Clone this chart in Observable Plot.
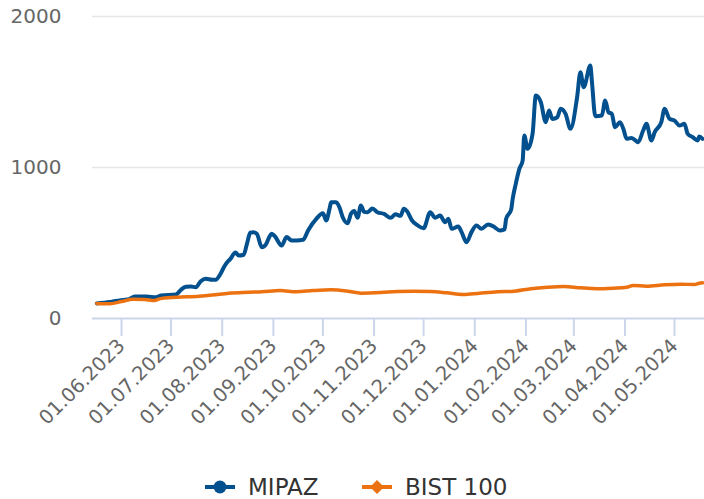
<!DOCTYPE html>
<html>
<head>
<meta charset="utf-8">
<script src="https://cdn.jsdelivr.net/npm/d3@7"></script>
<script src="https://cdn.jsdelivr.net/npm/@observablehq/plot@0.6"></script>
<style>
  html, body { margin: 0; padding: 0; background: #fff; }
  #wrap { position: relative; width: 704px; height: 499px; font-family: "DejaVu Sans", sans-serif; }
  #legend { position: absolute; left: 0; top: 460px; width: 704px; height: 39px; }
  .item { position: absolute; top: 10px; height: 34px; display: flex; align-items: center; font-size: 23px; color: #333; }
  .item svg { margin-right: 13px; }
</style>
</head>
<body>
<div id="wrap">
  <div id="chart"></div>
  <div id="legend"></div>
</div>
<script>
const seriesNames = ["MIPAZ", "BIST 100"];
const seriesColors = ["#03508f", "#ec7211"];

const mipazDates = ["2023-05-17","2023-05-25","2023-06-02","2023-06-06","2023-06-09","2023-06-16","2023-06-22","2023-06-25","2023-07-04","2023-07-07","2023-07-10","2023-07-13","2023-07-16","2023-07-19","2023-07-22","2023-07-26","2023-07-28","2023-07-31","2023-08-02","2023-08-04","2023-08-06","2023-08-09","2023-08-11","2023-08-14","2023-08-16","2023-08-18","2023-08-20","2023-08-22","2023-08-25","2023-08-27","2023-08-31","2023-09-02","2023-09-06","2023-09-09","2023-09-12","2023-09-15","2023-09-19","2023-09-22","2023-09-27","2023-10-01","2023-10-03","2023-10-05","2023-10-06","2023-10-09","2023-10-11","2023-10-13","2023-10-16","2023-10-18","2023-10-20","2023-10-22","2023-10-24","2023-10-26","2023-10-28","2023-10-31","2023-11-03","2023-11-07","2023-11-11","2023-11-14","2023-11-17","2023-11-19","2023-11-21","2023-11-24","2023-11-27","2023-12-01","2023-12-05","2023-12-08","2023-12-11","2023-12-14","2023-12-16","2023-12-18","2023-12-22","2023-12-24","2023-12-27","2023-12-30","2024-01-02","2024-01-05","2024-01-09","2024-01-13","2024-01-16","2024-01-19","2024-01-20","2024-01-23","2024-01-24","2024-01-26","2024-01-28","2024-01-30","2024-01-31","2024-02-02","2024-02-05","2024-02-07","2024-02-10","2024-02-13","2024-02-15","2024-02-17","2024-02-20","2024-02-22","2024-02-25","2024-02-28","2024-03-03","2024-03-05","2024-03-07","2024-03-11","2024-03-12","2024-03-14","2024-03-18","2024-03-20","2024-03-22","2024-03-24","2024-03-26","2024-03-29","2024-03-31","2024-04-02","2024-04-05","2024-04-09","2024-04-12","2024-04-14","2024-04-17","2024-04-19","2024-04-23","2024-04-25","2024-04-28","2024-05-01","2024-05-04","2024-05-07","2024-05-09","2024-05-12","2024-05-15","2024-05-16","2024-05-18"];
const mipazValues = [100,110,122,130,145,145,141,152,159,190,210,212,207,247,263,256,256,296,340,373,395,437,417,422,495,568,572,561,472,483,561,543,483,539,517,517,521,583,660,697,649,726,770,770,737,671,631,693,712,667,748,706,704,728,704,693,667,690,680,726,710,649,620,598,704,667,682,638,660,594,609,572,505,572,616,594,623,605,583,590,660,720,795,900,991,1046,1212,1124,1223,1477,1433,1300,1377,1322,1333,1389,1355,1256,1466,1631,1532,1675,1565,1340,1344,1444,1366,1355,1267,1300,1256,1190,1196,1168,1245,1289,1179,1234,1300,1389,1322,1311,1278,1289,1223,1201,1179,1205,1190];

const bistDates = ["2023-05-17","2023-05-25","2023-06-01","2023-06-08","2023-06-15","2023-06-21","2023-06-24","2023-07-04","2023-07-18","2023-07-26","2023-08-05","2023-08-17","2023-08-25","2023-09-05","2023-09-15","2023-09-25","2023-10-06","2023-10-16","2023-10-24","2023-11-05","2023-11-15","2023-11-25","2023-12-05","2023-12-15","2023-12-25","2024-01-04","2024-01-15","2024-01-25","2024-02-04","2024-02-14","2024-02-24","2024-03-05","2024-03-15","2024-03-25","2024-04-02","2024-04-06","2024-04-14","2024-04-25","2024-05-05","2024-05-13","2024-05-16","2024-05-18"];
const bistValues = [100,98,112,128,126,119,130,140,147,155,168,174,177,185,177,185,190,181,168,172,179,181,179,170,159,168,177,181,197,207,212,203,197,201,207,219,214,223,227,225,234,236];

const xTickLabels = ["01.06.2023","01.07.2023","01.08.2023","01.09.2023","01.10.2023","01.11.2023","01.12.2023","01.01.2024","01.02.2024","01.03.2024","01.04.2024","01.05.2024"];
const yTicks = [0, 1000, 2000];
const xDomain = ["2023-05-14T10:00Z", "2024-05-19T04:00Z"];

const parseLabel = s => { const [d, m, y] = s.split("."); return new Date(Date.UTC(+y, +m - 1, +d)); };
const xTicks = xTickLabels.map(parseLabel);
const fmt = d3.utcFormat("%d.%m.%Y");

const mipaz = mipazDates.map((d, i) => ({date: new Date(d), value: mipazValues[i]}));
const bist = bistDates.map((d, i) => ({date: new Date(d), value: bistValues[i]}));

const chart = Plot.plot({
  width: 704,
  height: 460,
  marginLeft: 92,
  marginRight: 0,
  marginTop: 16,
  marginBottom: 142,
  style: {fontFamily: "DejaVu Sans, sans-serif", background: "#fff", overflow: "visible"},
  x: {type: "utc", domain: xDomain.map(d => new Date(d))},
  y: {domain: [0, 2000]},
  marks: [
    Plot.ruleY(yTicks.filter(t => t > 0), {stroke: "#e6e6e6", strokeWidth: 1.5}),
    Plot.ruleY([0], {stroke: "#ccd6eb", strokeWidth: 2}),
    Plot.axisY({ticks: yTicks, tickSize: 0, tickPadding: 31, fontSize: 20, fill: "#666", label: null, tickFormat: d => String(d)}),
    Plot.axisX({ticks: xTicks, tickFormat: fmt, tickRotate: -45, tickSize: 18, tickPadding: 6, stroke: "#ccd6eb", strokeWidth: 2, strokeOpacity: 1, fontSize: 19.5, fill: "#666", label: null}),
    Plot.line(mipaz, {x: "date", y: "value", stroke: seriesColors[0], strokeWidth: 4, curve: "monotone-x", strokeLinejoin: "round", strokeLinecap: "round"}),
    Plot.line(bist, {x: "date", y: "value", stroke: seriesColors[1], strokeWidth: 3.5, curve: "monotone-x", strokeLinejoin: "round", strokeLinecap: "round"})
  ]
});
document.getElementById("chart").appendChild(chart);

// Legend
const legend = document.getElementById("legend");
const lefts = [205, 362];
seriesNames.forEach((name, i) => {
  const item = document.createElement("div");
  item.className = "item";
  item.style.left = lefts[i] + "px";
  const c = seriesColors[i];
  const marker = i === 0
    ? `<circle cx="15" cy="17" r="6.5" fill="${c}"/>`
    : `<path d="M15 10 L22 17 L15 24 L8 17 Z" fill="${c}"/>`;
  item.innerHTML = `<svg width="30" height="34"><line x1="0" y1="17" x2="30" y2="17" stroke="${c}" stroke-width="4"/>${marker}</svg><span>${name}</span>`;
  legend.appendChild(item);
});
</script>
</body>
</html>
